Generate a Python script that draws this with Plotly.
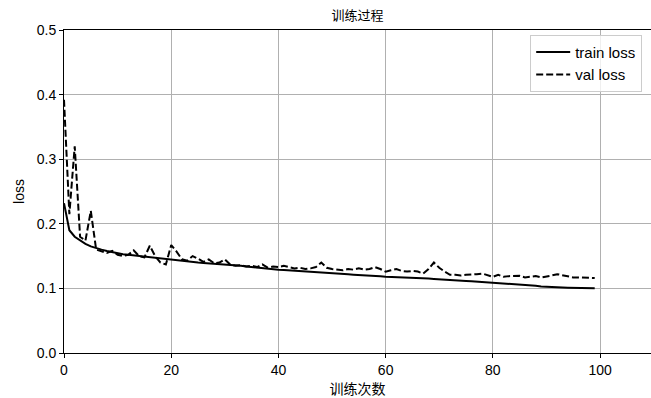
import plotly.graph_objects as go

epochs = list(range(100))

train_loss = [
    0.232, 0.190, 0.180, 0.174, 0.169, 0.165, 0.162, 0.160, 0.158, 0.156,
    0.154, 0.153, 0.152, 0.151, 0.150, 0.149, 0.148, 0.147, 0.146, 0.145,
    0.144, 0.143, 0.142, 0.1415, 0.141, 0.140, 0.1395, 0.139, 0.138, 0.1375,
    0.137, 0.136, 0.1355, 0.135, 0.134, 0.133, 0.1325, 0.132, 0.131, 0.130,
    0.129, 0.1285, 0.128, 0.1277, 0.1273, 0.127, 0.1265, 0.126, 0.1253, 0.1245,
    0.124, 0.1233, 0.1225, 0.122, 0.1213, 0.121, 0.1205, 0.120, 0.1193, 0.1187,
    0.118, 0.1178, 0.1175, 0.1172, 0.117, 0.1168, 0.1165, 0.116, 0.1153, 0.1147,
    0.114, 0.1135, 0.113, 0.1125, 0.112, 0.1115, 0.111, 0.1105, 0.110, 0.1095,
    0.109, 0.1085, 0.108, 0.1075, 0.107, 0.1065, 0.106, 0.105, 0.104, 0.1028,
    0.1022, 0.1018, 0.1015, 0.1013, 0.101, 0.101, 0.1007, 0.1005, 0.1003, 0.1002,
]

val_loss = [
    0.392, 0.215, 0.320, 0.180, 0.174, 0.220, 0.160, 0.157, 0.155, 0.158,
    0.152, 0.150, 0.152, 0.159, 0.150, 0.148, 0.166, 0.150, 0.140, 0.137,
    0.167, 0.157, 0.145, 0.143, 0.150, 0.146, 0.141, 0.145, 0.139, 0.140,
    0.145, 0.137, 0.135, 0.136, 0.134, 0.135, 0.133, 0.137, 0.132, 0.134,
    0.133, 0.135, 0.133, 0.131, 0.132, 0.130, 0.131, 0.133, 0.140, 0.132,
    0.130, 0.129, 0.128, 0.130, 0.129, 0.131, 0.129, 0.130, 0.133, 0.130,
    0.126, 0.128, 0.130, 0.127, 0.126, 0.127, 0.126, 0.123, 0.130, 0.140,
    0.132, 0.126, 0.121, 0.121, 0.120, 0.121, 0.121, 0.122, 0.123, 0.120,
    0.118, 0.121, 0.118, 0.119, 0.119, 0.1195, 0.117, 0.118, 0.119, 0.117,
    0.118, 0.120, 0.122, 0.120, 0.118, 0.117, 0.117, 0.117, 0.116, 0.116,
]

x_ticks = [0, 20, 40, 60, 80, 100]
y_ticks = [0.0, 0.1, 0.2, 0.3, 0.4, 0.5]

FONT = "Liberation Sans, Arial, Noto Sans CJK SC, sans-serif"
CJK = "Noto Sans CJK SC"

fig = go.Figure()
fig.add_trace(go.Scatter(x=epochs, y=train_loss, mode="lines", name="train loss",
                         line=dict(color="black", width=2)))
fig.add_trace(go.Scatter(x=epochs, y=val_loss, mode="lines", name="val loss",
                         line=dict(color="black", width=2, dash="7px,3px")))

axis_common = dict(
    showline=True, linecolor="black", linewidth=1, mirror=True,
    showgrid=True, gridcolor="#b0b0b0", gridwidth=1,
    ticks="outside", ticklen=4, tickwidth=1, tickcolor="black",
    zeroline=False, automargin=False,
    tickfont=dict(family=FONT, size=14, color="black"),
)

fig.update_layout(
    width=651, height=398,
    margin=dict(l=64, r=0, t=30, b=45),
    paper_bgcolor="white", plot_bgcolor="white",
    font=dict(family=FONT, color="black"),
    title=dict(text="训练过程", x=0.5, xref="paper",
               y=1 - 15 / 398, yanchor="middle", xanchor="center",
               font=dict(family=CJK, size=13, color="black")),
    xaxis=dict(range=[0, 109.5], tickvals=x_ticks,
               title=dict(text="训练次数", standoff=4,
                          font=dict(family=CJK, size=14, color="black")),
               **axis_common),
    yaxis=dict(range=[0, 0.5], tickvals=y_ticks, tickformat=".1f",
               title=dict(text="loss", standoff=8,
                          font=dict(family=FONT, size=14, color="black")),
               **axis_common),
    legend=dict(x=0.985, xanchor="right", y=0.985, yanchor="top",
                bordercolor="#cccccc", borderwidth=1, bgcolor="rgba(255,255,255,0.8)",
                font=dict(family=FONT, size=15, color="black"),
                itemwidth=34, tracegroupgap=0),
    showlegend=True,
)

fig.write_html("out.html", config={"displayModeBar": False},
               post_script="document.body.style.margin='0';document.body.style.padding='0';")
